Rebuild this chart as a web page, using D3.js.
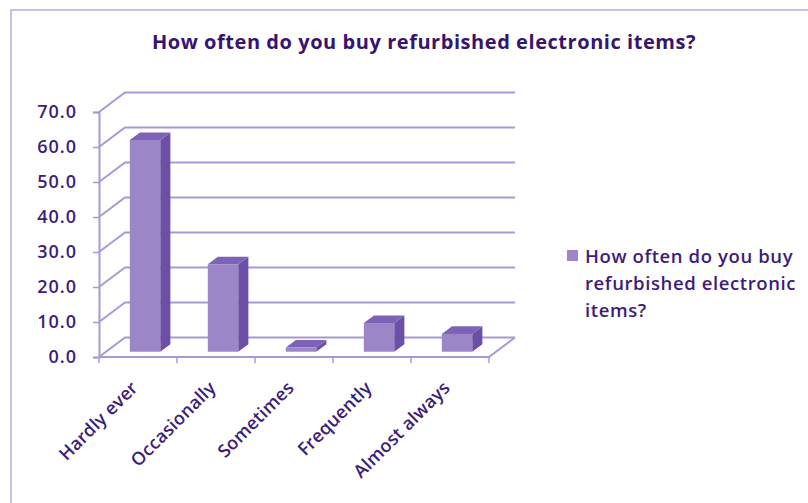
<!DOCTYPE html>
<html>
<head>
<meta charset="utf-8">
<script src="https://cdn.jsdelivr.net/npm/d3@7"></script>
<style>
  html, body { margin: 0; padding: 0; background: #fff; }
  svg { display: block; }
</style>
</head>
<body>
<svg id="chart" width="808" height="503"></svg>
<script>
// Survey answers (percent of respondents)
const categories = ["Hardly ever", "Occasionally", "Sometimes", "Frequently", "Almost always"];
const values = [60.5, 25.0, 1.2, 8.2, 5.1];
const yTicks = [0, 10, 20, 30, 40, 50, 60, 70];
const chartTitle = "How often do you buy refurbished electronic items?";
const legendLines = ["How often do you buy", "refurbished electronic", "items?"];

const W = 808, H = 503;
const svg = d3.select("#chart");

const textColor = "#3d1c7a";
const gridColor = "#a898d6";
const faceFront = "#9b87c8";
const faceSide = "#6c4fa6";
const faceTop = "#7d63b8";

// plot frame (front plane) and depth of the 3D box
const x0 = 99, x1 = 489, yBase = 357, yTop = 112;
const depthX = 26, depthY = -19.5;

const x = d3.scaleBand().domain(categories).range([x0, x1]).padding(0);
const y = d3.scaleLinear().domain([0, 70]).range([yBase, yTop]);

// outer chart border (top and left edges)
svg.append("path")
  .attr("d", `M11,${H} V10 H${W}`)
  .attr("fill", "none")
  .attr("stroke", "#b9acdc")
  .attr("stroke-width", 1.5);

// title
svg.append("text")
  .attr("x", 424).attr("y", 49)
  .attr("text-anchor", "middle")
  .attr("font-family", "'Open Sans', sans-serif")
  .attr("font-weight", 700)
  .attr("font-size", 20)
  .attr("letter-spacing", 0.55)
  .attr("fill", "#36146f")
  .text(chartTitle);

// side wall + back wall gridlines
const grid = svg.append("g").attr("fill", "none").attr("stroke", gridColor).attr("stroke-width", 2);
yTicks.forEach(t => {
  const yy = y(t);
  grid.append("path")
    .attr("d", `M${x0},${yy} L${x0 + depthX},${yy + depthY} H${x1 + depthX}`);
});

// floor front edge and right edge
grid.append("path")
  .attr("d", `M${x0},${yBase} H${x1} L${x1 + depthX},${yBase + depthY}`);

// category tick marks at band boundaries
const bounds = categories.map(c => x(c)).concat([x1]);
grid.selectAll("line.ctick").data(bounds).join("line")
  .attr("x1", d => d).attr("x2", d => d)
  .attr("y1", yBase).attr("y2", yBase + 6)
  .attr("stroke-width", 1.5);

// value axis on the front-left edge
const yAxis = d3.axisLeft(y)
  .tickValues(yTicks)
  .tickFormat(d3.format(".1f"))
  .tickSize(6)
  .tickPadding(16);
const ag = svg.append("g").attr("transform", `translate(${x0},0)`).call(yAxis);
ag.select(".domain").attr("stroke", gridColor).attr("stroke-width", 2);
ag.selectAll(".tick line").attr("stroke", gridColor).attr("stroke-width", 1.5);
ag.selectAll(".tick text")
  .attr("font-family", "'Open Sans', sans-serif")
  .attr("font-weight", 600)
  .attr("font-size", 18)
  .attr("letter-spacing", 1.0)
  .attr("fill", textColor);

// 3D bars
const barFrac = 0.39;           // bar width relative to category step
const f0 = 0.27, f1 = 0.66;     // bar front/back depth fractions
const bars = svg.append("g");
categories.forEach((c, i) => {
  const v = values[i];
  const bw = x.bandwidth() * barFrac;
  const cx = x(c) + x.bandwidth() / 2;
  const ox = f0 * depthX, oy = f0 * depthY;
  const dx = (f1 - f0) * depthX, dy = (f1 - f0) * depthY;
  const L = cx - bw / 2 + ox, R = cx + bw / 2 + ox;
  const T = y(v) + oy, B = y(0) + oy;
  const g = bars.append("g");
  g.append("path")
    .attr("d", `M${R},${T} L${R + dx},${T + dy} L${R + dx},${B + dy} L${R},${B} Z`)
    .attr("fill", faceSide);
  g.append("path")
    .attr("d", `M${L},${T} L${L + dx},${T + dy} L${R + dx},${T + dy} L${R},${T} Z`)
    .attr("fill", faceTop);
  g.append("rect")
    .attr("x", L).attr("y", T)
    .attr("width", R - L).attr("height", B - T)
    .attr("fill", faceFront);
});

// rotated category labels
svg.append("g").selectAll("text").data(categories).join("text")
  .attr("transform", d => `translate(${x(d) + x.bandwidth() / 2 + 1},${yBase + 32}) rotate(-45)`)
  .attr("text-anchor", "end")
  .attr("font-family", "'Open Sans', sans-serif")
  .attr("font-weight", 600)
  .attr("font-size", 18)
  .attr("letter-spacing", 0.2)
  .attr("fill", textColor)
  .text(d => d);

// legend
const lg = svg.append("g");
lg.append("rect").attr("x", 567).attr("y", 250).attr("width", 11).attr("height", 11).attr("fill", faceFront);
lg.selectAll("text").data(legendLines).join("text")
  .attr("x", 585)
  .attr("y", (d, i) => 263 + i * 27)
  .attr("font-family", "'Open Sans', sans-serif")
  .attr("font-weight", 600)
  .attr("font-size", 18.5)
  .attr("letter-spacing", 0.6)
  .attr("fill", textColor)
  .text(d => d);
</script>
</body>
</html>
